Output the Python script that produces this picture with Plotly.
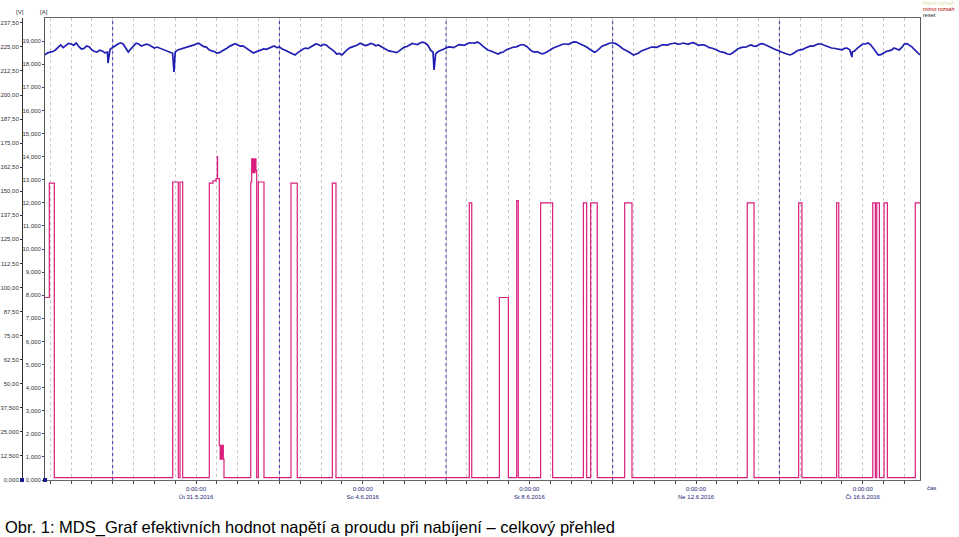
import pandas as pd
import plotly.graph_objects as go

W, H = 959, 537

# ---------------- data ----------------
start_time = "2016-05-27 09:00"
span_hours = 504

# voltage [V], sampled every 3 h from start
volt_step_h = 3
volt_values = [
    220.8, 222.3, 223.4, 226.0, 225.5, 226.5, 227.0, 223.9, 225.5, 223.4,
    222.3, 222.9, 222.3, 224.9, 226.5, 226.5, 222.3, 225.5, 226.5, 226.0,
    226.0, 224.4, 224.4, 223.4, 222.3, 222.3, 223.9, 224.9, 225.5, 226.5,
    226.0, 224.9, 222.9, 221.8, 222.9, 224.4, 226.0, 226.0, 225.5, 223.4,
    221.8, 222.9, 223.9, 224.4, 225.5, 224.9, 223.4, 221.8, 220.8, 222.9,
    224.4, 224.9, 226.5, 225.5, 226.0, 223.9, 221.3, 220.8, 223.4, 224.9,
    226.0, 226.5, 226.0, 226.5, 226.0, 224.4, 222.9, 222.3, 222.9, 224.9,
    226.0, 226.5, 227.0, 227.0, 223.4, 221.3, 223.4, 224.4, 224.9, 225.5,
    226.0, 226.5, 227.0, 227.5, 225.5, 223.4, 222.3, 221.3, 222.3, 223.9,
    224.9, 225.5, 226.0, 223.9, 222.3, 221.8, 221.8, 223.4, 224.9, 226.0,
    226.5, 227.0, 227.5, 226.5, 224.9, 222.9, 222.9, 225.5, 226.5, 227.0,
    226.0, 223.9, 222.3, 220.8, 221.8, 223.4, 224.4, 224.9, 225.5, 226.0,
    226.5, 227.0, 226.5, 226.5, 227.0, 226.5, 226.0, 225.5, 224.4, 223.4,
    222.3, 221.3, 221.8, 223.9, 224.9, 225.5, 225.5, 226.0, 226.5, 225.5,
    223.9, 222.9, 221.8, 220.8, 222.3, 223.4, 224.4, 225.5, 226.0, 226.5,
    225.5, 224.4, 223.9, 223.4, 224.4, 222.3, 224.4, 226.5, 227.0, 224.4,
    220.8, 221.8, 222.9, 224.4, 223.4, 226.5, 226.0, 223.4, 220.8,
]
# voltage read half-way between the samples above (1.5 h later)
volt_mid_values = [
    221.9, 222.6, 224.9, 224.6, 226.8, 225.9, 225.1, 224.2, 225.0, 222.6,
    223.3, 221.9, 223.8, 225.6, 227.1, 224.0, 224.0, 226.9, 225.4, 226.4,
    225.0, 224.9, 223.6, 223.0, 221.7, 223.4, 224.2, 225.4, 225.9, 226.9,
    225.1, 223.5, 222.6, 222.0, 223.5, 225.4, 226.6, 225.4, 224.6, 222.5,
    222.4, 223.6, 223.7, 225.2, 224.6, 224.0, 222.5, 221.5, 221.9, 223.8,
    224.1, 225.9, 226.2, 226.3, 224.7, 222.8, 221.6, 222.4, 224.5, 225.3,
    226.9, 225.7, 226.8, 225.6, 225.3, 223.6, 222.7, 222.0, 224.0, 225.2,
    226.8, 226.2, 227.4, 225.9, 222.2, 222.6, 223.8, 225.0, 224.6, 226.2,
    225.8, 227.1, 226.9, 226.8, 224.2, 223.0, 221.6, 222.0, 223.4, 224.6,
    225.0, 226.2, 225.2, 222.7, 222.5, 221.4, 222.8, 224.3, 225.2, 226.5,
    226.3, 227.6, 226.9, 225.8, 223.9, 222.2, 224.4, 225.9, 227.0, 226.8,
    224.9, 223.3, 221.7, 221.2, 222.9, 223.7, 224.9, 224.8, 226.0, 225.9,
    226.9, 226.4, 227.0, 226.3, 227.2, 225.8, 226.0, 224.6, 224.1, 222.6,
    222.0, 221.1, 222.9, 224.5, 224.8, 226.0, 225.3, 226.7, 226.0, 224.6,
    223.6, 222.2, 221.6, 221.3, 223.1, 223.7, 225.1, 225.4, 226.6, 226.0,
    224.7, 224.3, 223.4, 224.2, 223.5, 223.0, 225.6, 226.5, 226.2, 222.4,
    221.0, 222.6, 223.3, 224.0, 224.7, 226.7, 224.9, 222.0,
]
# short voltage dips: hours from start and value
volt_dip_h = [36.3, 74.3, 224.1, 464.8]
volt_dip_v = [216.6, 212.0, 213.0, 219.7]

# current [A], step series: hours from start, level
cur_h = [0.0, 2.48, 5.36, 73.56, 76.78, 77.76, 79.32, 94.64, 96.77, 98.5,
         99.25, 99.4, 100.4, 100.9, 101.3, 101.8, 102.2, 102.7, 103.1, 118.5,
         119.06, 119.5, 120.0, 120.5, 121.0, 121.5, 121.94, 122.86, 126.14, 141.7,
         145.3, 165.5, 167.6, 244.4, 245.8, 261.7, 266.9, 271.7, 272.6, 285.5,
         292.4, 310.1, 312.0, 314.3, 318.1, 333.9, 338.1, 404.5, 408.4, 434.1,
         436.0, 456.0, 457.2, 476.8, 478.3, 479.1, 480.6, 483.3, 485.2, 501.3,
         504.0]
cur_a = [7.9, 12.85, 0.1, 12.9, 0.1, 12.9, 0.1, 12.85, 12.95, 13.05,
         14.0, 13.05, 1.5, 0.9, 1.5, 0.9, 1.5, 0.9, 0.1, 12.9,
         13.9, 13.3, 13.9, 13.3, 13.9, 13.4, 0.1, 12.9, 0.1, 12.85,
         0.1, 12.85, 0.1, 12.0, 0.1, 7.9, 0.1, 12.1, 0.1, 12.0,
         0.1, 12.0, 0.1, 12.0, 0.1, 12.0, 0.1, 12.0, 0.1, 12.0,
         0.1, 12.0, 0.1, 12.0, 0.1, 12.0, 0.1, 12.0, 0.1, 12.0,
         12.0]

# axis ticks
volt_ticks = [0, 12.5, 25, 37.5, 50, 62.5, 75, 87.5, 100, 112.5, 125, 137.5,
              150, 162.5, 175, 187.5, 200, 212.5, 225, 237.5]
volt_tick_text = ["0,000", "12,500", "25,000", "37,500", "50,00", "62,50", "75,00",
                  "87,50", "100,00", "112,50", "125,00", "137,50", "150,00", "162,50",
                  "175,00", "187,50", "200,00", "212,50", "225,00", "237,50"]
cur_ticks = list(range(0, 20))
cur_tick_text = [f"{v},000" for v in cur_ticks]

date_label_days = ["2016-05-31", "2016-06-04", "2016-06-08", "2016-06-12", "2016-06-16"]
date_label_text = ["Út 31.5.2016", "So 4.6.2016", "St 8.6.2016", "Ne 12.6.2016", "Čt 16.6.2016"]
blue_grid_days = ["2016-05-29", "2016-06-02", "2016-06-06", "2016-06-10", "2016-06-14"]

legend_lines = ["Horní rozsah", "mimo rozsah", "reset"]
caption = "Obr. 1: MDS_Graf efektivních hodnot napětí a proudu při nabíjení – celkový přehled"

# ---------------- build ----------------
t0 = pd.Timestamp(start_time)
v_h, v_v = [], []
for i, v in enumerate(volt_values):
    v_h.append(i * volt_step_h)
    v_v.append(v)
    if i < len(volt_mid_values):
        v_h.append(i * volt_step_h + volt_step_h / 2)
        v_v.append(volt_mid_values[i])
v_h += volt_dip_h
v_v += volt_dip_v
order = sorted(range(len(v_h)), key=lambda i: v_h[i])
v_t = [t0 + pd.Timedelta(hours=v_h[i]) for i in order]
v_y = [v_v[i] for i in order]
c_t = [t0 + pd.Timedelta(hours=h) for h in cur_h]

fig = go.Figure()
fig.add_trace(go.Scatter(x=c_t, y=cur_a, mode="lines", line=dict(color="#d81e7c", width=1.2, shape="hv"),
                         yaxis="y", hoverinfo="skip", showlegend=False))
fig.add_trace(go.Scatter(x=v_t, y=v_y, mode="lines", line=dict(color="#1f1fb4", width=1.7),
                         yaxis="y2", hoverinfo="skip", showlegend=False))

t_end = t0 + pd.Timedelta(hours=span_hours)
grid_vals = list(pd.date_range("2016-05-27 12:00", "2016-06-17 00:00", freq="12h"))
lab_map = {pd.Timestamp(d): "0:00:00<br>" + t for d, t in zip(date_label_days, date_label_text)}
grid_text = [lab_map.get(v, "") for v in grid_vals]

x0d, x1d = 45 / W, 920 / W
y0d, y1d = 1 - 480 / H, 1 - 18 / H
fam = "Liberation Sans, Arial, sans-serif"

fig.update_layout(
    width=W, height=H, margin=dict(l=0, r=0, t=0, b=0),
    paper_bgcolor="white", plot_bgcolor="white",
    font=dict(family=fam, size=6, color="#333333"),
    xaxis=dict(type="date", domain=[x0d, x1d], range=[t0, t_end], tickmode="array",
               tickvals=grid_vals, ticktext=grid_text, ticks="outside", ticklen=3,
               tickcolor="#444", tickfont=dict(size=6, color="#1c1c78"),
               showgrid=True, gridcolor="#c8c8c8", griddash="dot", gridwidth=1,
               showline=True, linecolor="#666", mirror=True, zeroline=False, automargin=False),
    yaxis=dict(domain=[y0d, y1d], range=[0, 20], tickmode="array", tickvals=cur_ticks,
               ticktext=cur_tick_text, ticks="outside", ticklen=2, tickcolor="#444",
               showgrid=False, showline=True, linecolor="#555", mirror=True, zeroline=False,
               automargin=False, tickfont=dict(size=6, color="#333")),
    yaxis2=dict(overlaying="y", anchor="free", position=22 / W, side="left", range=[0, 240],
                tickmode="array", tickvals=volt_ticks, ticktext=volt_tick_text, ticks="outside",
                ticklen=2, tickcolor="#333", showgrid=False, showline=True, linecolor="#333",
                zeroline=False, automargin=False, tickfont=dict(size=6, color="#333")),
)

for d in blue_grid_days:
    fig.add_shape(type="line", xref="x", yref="paper", x0=d, x1=d, y0=y0d, y1=y1d,
                  line=dict(color="#3030a0", width=1, dash="dot"), layer="below")

# small navy markers at the origin of both value axes
for xp in (22, 45):
    fig.add_shape(type="rect", xref="paper", yref="paper", x0=(xp - 2) / W, x1=(xp + 2) / W,
                  y0=1 - 482 / H, y1=1 - 478 / H, line=dict(width=0), fillcolor="#1c1c8c")

for txt, xp in [("[V]", 20), ("[A]", 44)]:
    fig.add_annotation(xref="paper", yref="paper", x=xp / W, y=1 - 12 / H, text=txt,
                       showarrow=False, font=dict(size=6, color="#333"), xanchor="center", yanchor="middle")
fig.add_annotation(xref="paper", yref="paper", x=925 / W, y=1 - 488 / H, text="čas", showarrow=False,
                   font=dict(size=6, color="#1c1c78"), xanchor="left", yanchor="middle")
leg_cols = ["#d8e6a8", "#b00000", "#222"]
for i, (t, c) in enumerate(zip(legend_lines, leg_cols)):
    fig.add_annotation(xref="paper", yref="paper", x=921 / W, y=1 - (3 + 6 * i) / H, text=t,
                       showarrow=False, font=dict(size=5.5, color=c), xanchor="left", yanchor="middle")
fig.add_annotation(xref="paper", yref="paper", x=3 / W, y=1 - 527 / H, text=caption, showarrow=False,
                   font=dict(size=16.5, color="black", family=fam),
                   xanchor="left", yanchor="middle")

fig.write_html("out.html", config={"displayModeBar": False},
               post_script="document.body.style.margin='0px';")
